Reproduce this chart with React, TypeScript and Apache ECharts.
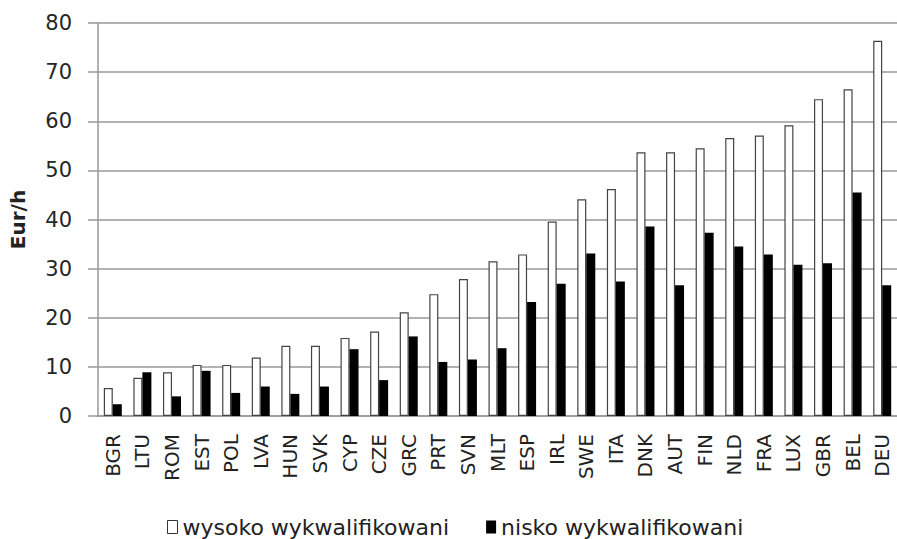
import React, { useEffect, useRef } from "react";
import * as echarts from "echarts";

const categories = ["BGR","LTU","ROM","EST","POL","LVA","HUN","SVK","CYP","CZE","GRC","PRT","SVN","MLT","ESP","IRL","SWE","ITA","DNK","AUT","FIN","NLD","FRA","LUX","GBR","BEL","DEU"];
const highSkilled = [5.7,7.8,8.9,10.4,10.4,11.9,14.3,14.3,15.9,17.2,21.1,24.8,27.9,31.5,32.9,39.6,44.1,46.2,53.7,53.7,54.5,56.6,57.1,59.2,64.5,66.5,76.4];
const lowSkilled = [2.4,8.9,4.0,9.2,4.7,6.0,4.5,6.0,13.6,7.3,16.2,11.0,11.5,13.8,23.2,26.9,33.1,27.4,38.6,26.6,37.3,34.5,32.9,30.8,31.1,45.5,26.6];
const yTicks = { min: 0, max: 80, interval: 10 };
const seriesNames = ["wysoko wykwalifikowani", "nisko wykwalifikowani"];
const yAxisName = "Eur/h";

export default function App() {
  const ref = useRef<HTMLDivElement>(null);
  useEffect(() => {
    if (!ref.current) return;
    const chart = echarts.init(ref.current, null, { renderer: "svg" });
    const font = "'DejaVu Sans', sans-serif";
    chart.setOption({
      animation: false,
      backgroundColor: "#ffffff",
      textStyle: { fontFamily: font },
      grid: { left: 96, right: -5, top: 23, bottom: 123, containLabel: false },
      legend: {
        top: 511,
        left: 162,
        itemWidth: 10,
        itemHeight: 13,
        itemGap: 37,
        textStyle: { fontSize: 22, color: "#222", fontFamily: font },
        data: [
          { name: seriesNames[0], icon: "rect", itemStyle: { color: "#fff", borderColor: "#333", borderWidth: 1 } },
          { name: seriesNames[1], icon: "rect", itemStyle: { color: "#000" } },
        ],
      },
      xAxis: {
        type: "category",
        data: categories,
        axisLine: { lineStyle: { color: "#999", width: 1.5 } },
        axisTick: { show: false },
        axisLabel: { rotate: 90, fontSize: 20, color: "#222", margin: 18, interval: 0, fontFamily: font },
      },
      yAxis: {
        type: "value",
        min: yTicks.min,
        max: yTicks.max,
        interval: yTicks.interval,
        name: yAxisName,
        nameLocation: "middle",
        nameGap: 70,
        nameRotate: 90,
        nameTextStyle: { fontSize: 20, fontWeight: "bold", color: "#222", fontFamily: font },
        axisLine: { show: true, lineStyle: { color: "#999", width: 1.5 } },
        axisTick: { show: true, length: 10, lineStyle: { color: "#999", width: 1.5 } },
        axisLabel: { fontSize: 21, color: "#262626", margin: 26, fontFamily: font },
        splitLine: { lineStyle: { color: "#999", width: 1.5 } },
      },
      series: [
        {
          name: seriesNames[0],
          type: "bar",
          data: highSkilled,
          barWidth: 9,
          barGap: "0%",
          itemStyle: { color: "#ffffff", borderColor: "#444", borderWidth: 1.2 },
        },
        {
          name: seriesNames[1],
          type: "bar",
          data: lowSkilled,
          barWidth: 9,
          itemStyle: { color: "#000000" },
        },
      ],
    });
    return () => chart.dispose();
  }, []);
  return (
    <div style={{ position: "fixed", left: 0, top: 0, width: 897, height: 539, overflow: "hidden" }}>
      <div ref={ref} style={{ width: 897, height: 539 }} />
    </div>
  );
}
